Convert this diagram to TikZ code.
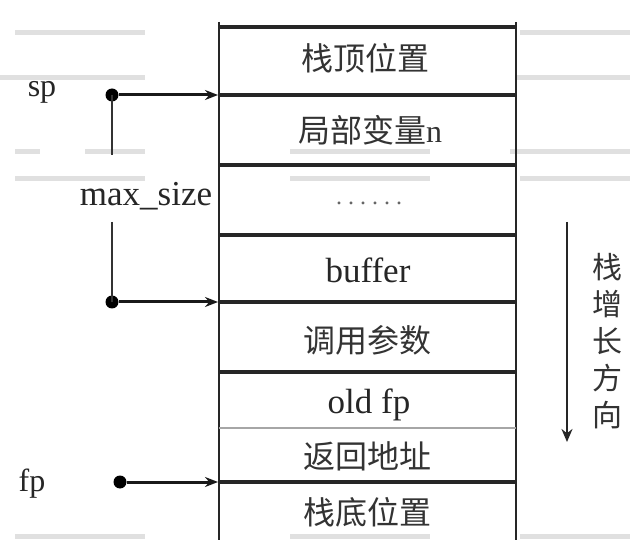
\documentclass[tikz,border=0pt]{standalone}
\usepackage{fontspec}
\setmainfont{Liberation Serif}
\newfontfamily\cjk{Noto Sans CJK SC}
\usetikzlibrary{arrows.meta}
\begin{document}
\begin{tikzpicture}[x=1pt,y=-1pt,
  frame/.style={line width=2.8pt,black!85},
  hline/.style={line width=3.2pt,black!85},
  thinsep/.style={line width=1.4pt,black!35},
  band/.style={line width=5pt,black!12},
  cell/.style={inner sep=0pt,font=\cjk\fontsize{32}{32}\selectfont,text=black!80},
  latin/.style={inner sep=0pt,font=\fontsize{35}{35}\selectfont,text=black!85},
  ptr/.style={line width=3pt,black!90,-{Stealth[length=13pt,width=10pt]}},
  dimline/.style={line width=2pt,black!80},
  dot/.style={circle,fill=black,inner sep=0pt,minimum size=13pt}]
\useasboundingbox (0,0) rectangle (630,540);
\fill[white] (0,0) rectangle (630,540);
% faint scan bands
\draw[band] (15,33) -- (145,33);
\draw[band] (520,33) -- (630,33);
\draw[band] (0,78) -- (145,78);
\draw[band] (515,78) -- (630,78);
\draw[band] (15,152) -- (40,152);
\draw[band] (85,152) -- (145,152);
\draw[band] (290,152) -- (430,152);
\draw[band] (510,152) -- (630,152);
\draw[band] (15,179) -- (145,179);
\draw[band] (290,179) -- (430,179);
\draw[band] (520,179) -- (630,179);
\draw[band] (15,536) -- (145,536);
\draw[band] (290,536) -- (430,536);
\draw[band] (520,536) -- (630,536);
% stack frame
\draw[frame] (219,22) -- (219,540);
\draw[frame] (516,22) -- (516,540);
\draw[hline] (219,27) -- (516,27);
\draw[hline] (219,95) -- (516,95);
\draw[hline] (219,165) -- (516,165);
\draw[hline] (219,235) -- (516,235);
\draw[hline] (219,302) -- (516,302);
\draw[hline] (219,372) -- (516,372);
\draw[thinsep] (219,428) -- (516,428);
\draw[hline] (219,482) -- (516,482);
% cell texts
\node[cell] (c1) at (365,58) {栈顶位置};
\node[cell] (c2) at (370,130) {局部变量\textrm{n}};
\node[inner sep=0pt,font=\fontsize{24}{24}\selectfont,text=black!60] (c3) at (369,203) {.\kern6pt.\kern6pt.\kern6pt.\kern6pt.\kern6pt.};
\node[latin] (c4) at (368,270) {buffer};
\node[cell] (c5) at (367,340) {调用参数};
\node[latin] (c6) at (369,405) {old fp};
\node[cell] (c7) at (367,456) {返回地址};
\node[cell] (c8) at (367,512) {栈底位置};
% pointer labels and dots
\node[latin,font=\fontsize{32}{32}\selectfont] (sp) at (42,92) {sp};
\node[latin,font=\fontsize{32}{32}\selectfont] (fp) at (32,484) {fp};
\node[latin] (maxs) at (146,196) {max\_size};
\node[dot] (spdot) at (112,95) {};
\node[dot] (maxdot) at (112,302) {};
\node[dot] (fpdot) at (120,482) {};
\coordinate (spT) at (218,95);
\coordinate (maxT) at (218,302);
\coordinate (fpT) at (218,482);
\coordinate (spgap) at (112,155);
\coordinate (maxgap) at (112,222);
\draw[ptr] (spdot) -- (spT);
\draw[ptr] (maxdot) -- (maxT);
\draw[ptr] (fpdot) -- (fpT);
\draw[dimline] (spdot.center) -- (spgap);
\draw[dimline] (maxgap) -- (maxdot.center);
% growth direction
\coordinate (gtop) at (567,222);
\coordinate (gbot) at (567,442);
\draw[line width=2.4pt,black!85,-{Stealth[length=13pt,width=11pt]}] (gtop) -- (gbot);
\node[inner sep=0pt,align=center,font=\cjk\fontsize{30}{37}\selectfont,text=black!80] (grow) at (607,341) {栈\\增\\长\\方\\向};
\end{tikzpicture}
\end{document}
